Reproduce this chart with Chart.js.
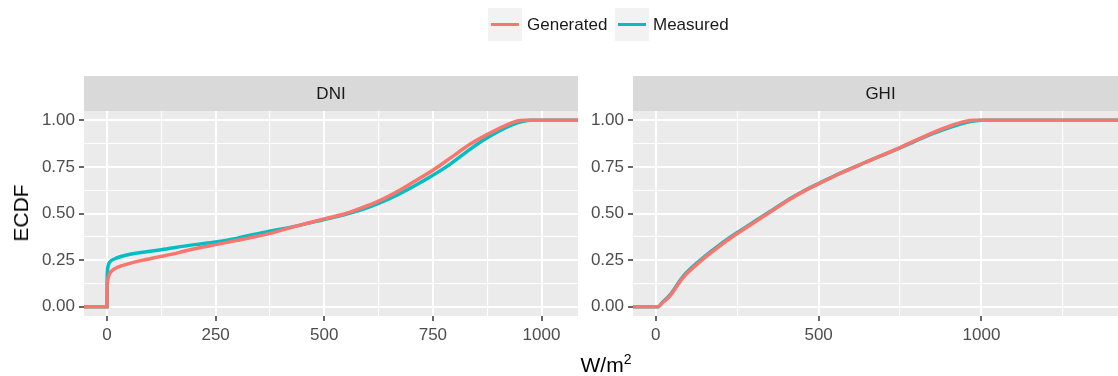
<!DOCTYPE html>
<html>
<head>
<meta charset="utf-8">
<script src="https://cdn.jsdelivr.net/npm/chart.js@4.4.0/dist/chart.umd.min.js"></script>
<style>
  html, body { margin: 0; padding: 0; background: #fff; }
  body { width: 1118px; height: 376px; position: relative; overflow: hidden; font-family: "Liberation Sans", Arial, sans-serif; }
  canvas { position: absolute; top: 0; }
  .key { position: absolute; top: 8px; width: 34px; height: 33px; background: #F2F2F2; }
  .key span { position: absolute; left: 3px; right: 3px; top: 15px; height: 3px; }
  .lab { position: absolute; top: 15px; font-size: 17px; line-height: 20px; color: #1A1A1A; white-space: nowrap; }
  .ytitle { position: absolute; left: 21px; top: 213px; font-size: 21px; line-height: 24px; transform: translate(-50%, -50%) rotate(-90deg); white-space: nowrap; }
  .xtitle { position: absolute; left: 606px; top: 353px; font-size: 21px; line-height: 24px; transform: translateX(-50%); white-space: nowrap; }
  .xtitle sup { font-size: 14px; line-height: 0; vertical-align: 8px; }
</style>
</head>
<body>
<canvas id="dni" width="600" height="376" style="left:0"></canvas>
<canvas id="ghi" width="538" height="376" style="left:590px"></canvas>

<div class="key" style="left:488px"><span style="background:#F8766D"></span></div>
<div class="lab" style="left:527px">Generated</div>
<div class="key" style="left:615px"><span style="background:#00BFC4"></span></div>
<div class="lab" style="left:653px">Measured</div>
<div class="ytitle">ECDF</div>
<div class="xtitle">W/m<sup>2</sup></div>

<script>
// ECDF values
const dniGenX = [-53, 0, 0.2, 1, 4, 10, 25, 48, 87, 125, 165, 202, 250, 300, 340, 380, 440, 468, 500, 544, 583, 625, 667, 706, 750, 790, 837, 875, 913, 944, 960, 1084];
const dniGenY = [0, 0, 0.08, 0.13, 0.165, 0.19, 0.212, 0.23, 0.252, 0.27, 0.29, 0.311, 0.333, 0.356, 0.375, 0.396, 0.435, 0.452, 0.471, 0.496, 0.527, 0.566, 0.616, 0.67, 0.732, 0.797, 0.874, 0.924, 0.968, 0.996, 1.0, 1.0];
const dniMeaX = [-53, 0, 0.2, 1, 3, 6, 18, 48, 87, 125, 202, 250, 300, 340, 380, 440, 500, 544, 583, 625, 667, 706, 750, 790, 837, 875, 913, 944, 974, 1084];
const dniMeaY = [0, 0, 0.12, 0.19, 0.222, 0.239, 0.257, 0.279, 0.293, 0.306, 0.333, 0.347, 0.368, 0.389, 0.407, 0.435, 0.468, 0.492, 0.518, 0.554, 0.598, 0.646, 0.705, 0.765, 0.847, 0.906, 0.955, 0.986, 1.0, 1.0];

const ghiGenX = [-70, 7, 20, 43, 84, 136, 197, 248, 310, 361, 413, 464, 500, 567, 639, 750, 844, 906, 947, 977, 1450];
const ghiGenY = [0, 0, 0.02, 0.057, 0.156, 0.242, 0.327, 0.39, 0.461, 0.519, 0.578, 0.628, 0.659, 0.716, 0.771, 0.854, 0.929, 0.971, 0.993, 1.0, 1.0];
const ghiMeaX = [-70, 7, 20, 43, 84, 136, 197, 248, 310, 361, 413, 464, 500, 567, 639, 750, 844, 906, 947, 977, 1005, 1450];
const ghiMeaY = [0, 0, 0.022, 0.062, 0.163, 0.249, 0.333, 0.395, 0.465, 0.522, 0.58, 0.63, 0.661, 0.717, 0.771, 0.852, 0.924, 0.964, 0.986, 0.996, 1.0, 1.0];

const yMajor = [0, 0.25, 0.5, 0.75, 1];
const yMinor = [0.125, 0.375, 0.625, 0.875];
const dniMajor = [0, 250, 500, 750, 1000];
const dniMinor = [125, 375, 625, 875];
const ghiMajor = [0, 500, 1000];
const ghiMinor = [250, 750, 1250];

const RED = '#F8766D', TEAL = '#00BFC4';
const FONT = '"Liberation Sans", Arial, sans-serif';

const pts = (xs, ys) => xs.map((x, i) => ({ x: x, y: ys[i] }));

// grey panel + facet strip
const panelPlugin = {
  id: 'panel',
  beforeDraw(chart, args, opts) {
    const { ctx, chartArea: a } = chart;
    ctx.save();
    ctx.fillStyle = '#EBEBEB';
    ctx.fillRect(a.left, a.top, a.right - a.left, a.bottom - a.top);
    ctx.fillStyle = '#D9D9D9';
    ctx.fillRect(a.left, a.top - 35, a.right - a.left, 35);
    ctx.fillStyle = '#1A1A1A';
    ctx.font = '17px ' + FONT;
    ctx.textAlign = 'center';
    ctx.textBaseline = 'middle';
    ctx.fillText(opts.title, (a.left + a.right) / 2, a.top - 17);
    ctx.restore();
  }
};

function axis(major, minor, min, max, fmt, fit) {
  const all = major.concat(minor).sort((a, b) => a - b);
  const isMajor = v => major.includes(v);
  return {
    type: 'linear',
    min: min,
    max: max,
    afterBuildTicks: s => { s.ticks = all.map(v => ({ value: v })); },
    afterFit: fit,
    border: { display: false },
    grid: {
      color: '#FFFFFF',
      lineWidth: c => (c.tick && isMajor(c.tick.value)) ? 2 : 1.1,
      tickColor: c => (c.tick && isMajor(c.tick.value)) ? '#333333' : 'rgba(0,0,0,0)',
      tickWidth: 1.5,
      tickLength: 5,
      drawTicks: true
    },
    ticks: {
      autoSkip: false,
      maxRotation: 0,
      padding: 4,
      color: '#4D4D4D',
      font: { family: FONT, size: 17 },
      callback: v => isMajor(v) ? fmt(v) : ''
    }
  };
}

function makeChart(id, title, genX, genY, meaX, meaY, xMajor, xMinor, xMin, xMax, yWidth, padRight) {
  new Chart(document.getElementById(id), {
    type: 'line',
    data: {
      datasets: [
        { label: 'Generated', data: pts(genX, genY), borderColor: RED, borderWidth: 3.5, pointRadius: 0, cubicInterpolationMode: 'monotone', fill: false },
        { label: 'Measured', data: pts(meaX, meaY), borderColor: TEAL, borderWidth: 3.5, pointRadius: 0, cubicInterpolationMode: 'monotone', fill: false }
      ]
    },
    options: {
      responsive: false,
      animation: false,
      events: [],
      layout: { padding: { top: 111, right: padRight, bottom: 0, left: 0 } },
      plugins: { legend: { display: false }, tooltip: { enabled: false }, panel: { title: title } },
      scales: {
        x: axis(xMajor, xMinor, xMin, xMax, v => String(v), s => { s.height = 60; }),
        y: axis(yMajor, yMinor, -0.05, 1.05, v => v.toFixed(2), s => { s.width = yWidth; })
      }
    },
    plugins: [panelPlugin]
  });
}

makeChart('dni', 'DNI', dniGenX, dniGenY, dniMeaX, dniMeaY, dniMajor, dniMinor, -53, 1084, 84, 22);
makeChart('ghi', 'GHI', ghiGenX, ghiGenY, ghiMeaX, ghiMeaY, ghiMajor, ghiMinor, -70, 1450, 43, 0);
</script>
</body>
</html>
